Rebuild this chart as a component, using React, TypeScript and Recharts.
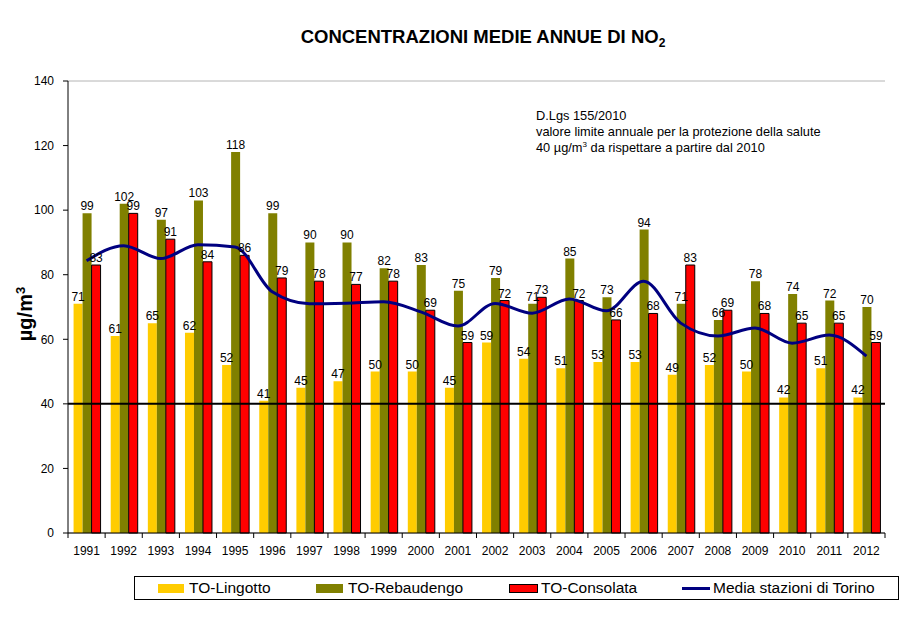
import React from 'react';
import {
  ComposedChart,
  Bar,
  Line,
  XAxis,
  YAxis,
  CartesianGrid,
  ReferenceLine,
  LabelList,
} from 'recharts';

const years = [
  '1991', '1992', '1993', '1994', '1995', '1996', '1997', '1998', '1999', '2000', '2001',
  '2002', '2003', '2004', '2005', '2006', '2007', '2008', '2009', '2010', '2011', '2012',
];
const lingotto = [71, 61, 65, 62, 52, 41, 45, 47, 50, 50, 45, 59, 54, 51, 53, 53, 49, 52, 50, 42, 51, 42];
const rebaudengo = [99, 102, 97, 103, 118, 99, 90, 90, 82, 83, 75, 79, 71, 85, 73, 94, 71, 66, 78, 74, 72, 70];
const consolata = [83, 99, 91, 84, 86, 79, 78, 77, 78, 69, 59, 72, 73, 72, 66, 68, 83, 69, 68, 65, 65, 59];
const media = [
  84.3, 89, 85, 89.3, 88.6, 74.7, 71, 71.2, 71.6, 68.5, 64.1,
  71.1, 68.1, 72.5, 68.8, 78, 65, 61, 63.5, 58.8, 61.3, 54.8,
];
const yTicks = [0, 20, 40, 60, 80, 100, 120, 140];
const limitValue = 40;

const data = years.map((year, i) => ({
  year,
  lingotto: lingotto[i],
  rebaudengo: rebaudengo[i],
  consolata: consolata[i],
  media: media[i],
}));

const FONT = '"Liberation Sans", Arial, sans-serif';
const TICK_SIZE = 5;
const TICK_MARGIN = 8;

// year label with Excel-style tick marks between categories
function YearTick(props: any) {
  const { x, y, payload, width, visibleTicksCount, index } = props;
  const band = (width || 817) / (visibleTicksCount || 22);
  const axisY = y - TICK_SIZE - TICK_MARGIN;
  const left = x - band / 2;
  const right = x + band / 2;
  const last = index === (visibleTicksCount || 22) - 1;
  return (
    <g>
      <line x1={left} x2={left} y1={axisY} y2={axisY + TICK_SIZE} stroke="#000" />
      {last && <line x1={right} x2={right} y1={axisY} y2={axisY + TICK_SIZE} stroke="#000" />}
      <text x={x} y={y} dy="0.71em" textAnchor="middle" fontSize={12} fill="#000" fontFamily={FONT}>
        {payload.value}
      </text>
    </g>
  );
}

const labelStyle = { fontSize: 12, fill: '#000', fontFamily: FONT };

export default function App() {
  return (
    <div style={{ position: 'absolute', left: 0, top: 0, width: 904, height: 625, background: '#fff', fontFamily: FONT }}>
      {/* Title */}
      <div
        style={{
          position: 'absolute',
          left: 0,
          width: 966,
          top: 26,
          textAlign: 'center',
          fontSize: 18.5,
          fontWeight: 'bold',
          color: '#000',
          whiteSpace: 'nowrap',
        }}
      >
        CONCENTRAZIONI MEDIE ANNUE DI NO<sub style={{ fontSize: 12, verticalAlign: '-4px' }}>2</sub>
      </div>

      <ComposedChart
        width={904}
        height={625}
        data={data}
        margin={{ top: 81, right: 19, bottom: 62, left: 0 }}
        barCategoryGap="15%"
        barGap={0}
      >
        <CartesianGrid horizontal vertical={false} stroke="#b4b4b4" />
        <XAxis
          dataKey="year"
          height={30}
          interval={0}
          axisLine={{ stroke: '#000' }}
          tickLine={false}
          tickSize={TICK_SIZE}
          tickMargin={TICK_MARGIN}
          tick={<YearTick />}
        />
        <YAxis
          yAxisId="left"
          width={68}
          domain={[0, 140]}
          ticks={yTicks}
          interval={0}
          axisLine={{ stroke: '#000' }}
          tickLine={{ stroke: '#000' }}
          tickSize={TICK_SIZE}
          tickMargin={9}
          tick={{ fontSize: 12, fill: '#000', fontFamily: FONT }}
        />
        <YAxis
          yAxisId="right"
          orientation="right"
          width={0}
          domain={[0, 140]}
          tick={false}
          tickLine={false}
          axisLine={{ stroke: '#9a9a9a' }}
        />
        <Bar yAxisId="left" dataKey="lingotto" fill="#FFCC00" isAnimationActive={false}>
          <LabelList dataKey="lingotto" position="top" offset={3} style={labelStyle} />
        </Bar>
        <Bar yAxisId="left" dataKey="rebaudengo" fill="#808000" isAnimationActive={false}>
          <LabelList dataKey="rebaudengo" position="top" offset={3} style={labelStyle} />
        </Bar>
        <Bar yAxisId="left" dataKey="consolata" fill="#FF0000" stroke="#000" strokeWidth={1} isAnimationActive={false}>
          <LabelList dataKey="consolata" position="top" offset={3} style={labelStyle} />
        </Bar>
        <ReferenceLine yAxisId="left" y={limitValue} stroke="#000" strokeWidth={2} />
        <Line
          yAxisId="left"
          type="monotone"
          dataKey="media"
          stroke="#000080"
          strokeWidth={3}
          dot={false}
          activeDot={false}
          isAnimationActive={false}
        />
      </ComposedChart>

      {/* Y axis title */}
      <div
        style={{
          position: 'absolute',
          left: 25,
          top: 314,
          transform: 'translate(-50%, -50%) rotate(-90deg)',
          fontSize: 20,
          fontWeight: 'bold',
          whiteSpace: 'nowrap',
          color: '#000',
        }}
      >
        µg/m<sup style={{ fontSize: 13 }}>3</sup>
      </div>

      {/* Annotation */}
      <div
        style={{
          position: 'absolute',
          left: 536,
          top: 108,
          fontSize: 12.8,
          lineHeight: '16px',
          color: '#000',
          whiteSpace: 'nowrap',
        }}
      >
        <div>D.Lgs 155/2010</div>
        <div>valore limite annuale per la protezione della salute</div>
        <div>
          40 µg/m<sup style={{ fontSize: 8, verticalAlign: '5px', lineHeight: 0 }}>3</sup> da rispettare a partire dal 2010
        </div>
      </div>

      {/* Legend */}
      <div
        style={{
          position: 'absolute',
          left: 134,
          top: 576,
          width: 765,
          height: 24,
          border: '1px solid #000',
          boxSizing: 'border-box',
          fontSize: 15.5,
          color: '#000',
        }}
      >
        <div style={{ position: 'absolute', left: 23, top: 7, width: 26, height: 9, background: '#FFCC00' }} />
        <div style={{ position: 'absolute', left: 54, top: 2, lineHeight: '18px' }}>TO-Lingotto</div>
        <div style={{ position: 'absolute', left: 181, top: 7, width: 27, height: 9, background: '#808000' }} />
        <div style={{ position: 'absolute', left: 213, top: 2, lineHeight: '18px' }}>TO-Rebaudengo</div>
        <div
          style={{
            position: 'absolute',
            left: 374,
            top: 7,
            width: 29,
            height: 9,
            background: '#FF0000',
            border: '1px solid #000',
            boxSizing: 'border-box',
          }}
        />
        <div style={{ position: 'absolute', left: 406, top: 2, lineHeight: '18px' }}>TO-Consolata</div>
        <div style={{ position: 'absolute', left: 547, top: 10, width: 28, height: 3, background: '#000080' }} />
        <div style={{ position: 'absolute', left: 578, top: 2, lineHeight: '18px' }}>Media stazioni di Torino</div>
      </div>
    </div>
  );
}
